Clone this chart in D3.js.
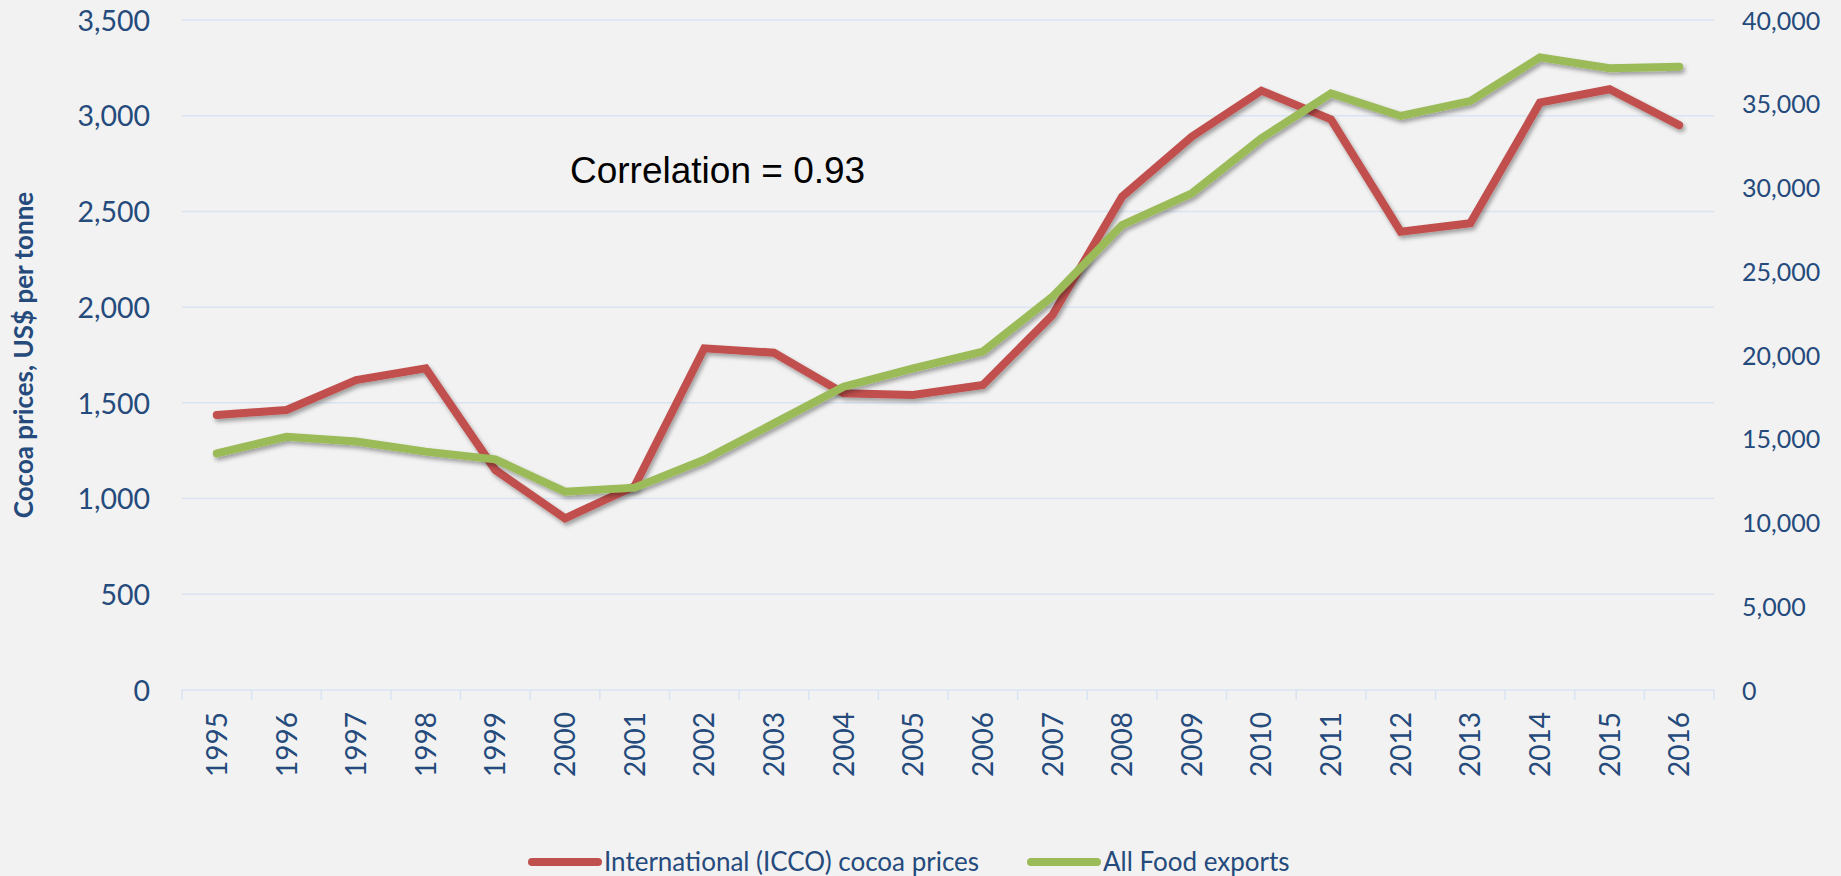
<!DOCTYPE html>
<html>
<head>
<meta charset="utf-8">
<script src="https://cdn.jsdelivr.net/npm/d3@7"></script>
<style>
  html, body { margin: 0; padding: 0; background: #f2f2f2; }
  svg { display: block; }
  .tick-label { font-family: Lato, "Open Sans", sans-serif; fill: #254a7c; }
  .grid line { stroke: #d9e4f2; stroke-width: 1.5; }
</style>
</head>
<body>
<div id="chart"></div>
<script>
/* ============================================================
   Cocoa prices vs. food exports - dual axis line chart
   ============================================================ */

const WIDTH = 1841;
const HEIGHT = 876;
const PLOT = { left: 182, right: 1714, top: 20, bottom: 690 };

// categories
const YEARS = [
  "1995", "1996", "1997", "1998", "1999", "2000", "2001", "2002",
  "2003", "2004", "2005", "2006", "2007", "2008", "2009", "2010",
  "2011", "2012", "2013", "2014", "2015", "2016",
];

// International (ICCO) cocoa prices, US$ per tonne (left axis)
const COCOA_PRICES = [
  1437, 1463, 1619, 1680, 1149, 897, 1065, 1785,
  1762, 1550, 1541, 1593, 1959, 2577, 2890, 3131,
  2981, 2394, 2438, 3068, 3138, 2951,
];

// All food exports (right axis)
const FOOD_EXPORTS = [
  14130, 15120, 14830, 14230, 13770, 11840, 12080, 13750,
  15920, 18110, 19200, 20200, 23480, 27760, 29650, 32940,
  35620, 34270, 35160, 37770, 37120, 37210,
];

const LEFT_TICKS = [0, 500, 1000, 1500, 2000, 2500, 3000, 3500];
const RIGHT_TICKS = [0, 5000, 10000, 15000, 20000, 25000, 30000, 35000, 40000];

const SERIES = [
  { name: "International (ICCO) cocoa prices", values: COCOA_PRICES, color: "#c0504d", axis: "left" },
  { name: "All Food exports", values: FOOD_EXPORTS, color: "#9bbb59", axis: "right" },
];

const fmt = d3.format(",");

const svg = d3
  .select("#chart")
  .append("svg")
  .attr("width", WIDTH)
  .attr("height", HEIGHT);

// soft shadow under the lines, like the office chart
const defs = svg.append("defs");
defs
  .append("filter")
  .attr("id", "shadow")
  .attr("x", "-5%")
  .attr("y", "-20%")
  .attr("width", "110%")
  .attr("height", "140%")
  .append("feDropShadow")
  .attr("dx", 2)
  .attr("dy", 3)
  .attr("stdDeviation", 2)
  .attr("flood-color", "#000")
  .attr("flood-opacity", 0.35);

/* ---------- scales ---------- */
const x = d3
  .scaleBand()
  .domain(YEARS)
  .range([PLOT.left, PLOT.right])
  .padding(0);

const yLeft = d3
  .scaleLinear()
  .domain([0, 3500])
  .range([PLOT.bottom, PLOT.top]);

const yRight = d3
  .scaleLinear()
  .domain([0, 40000])
  .range([PLOT.bottom, PLOT.top]);

const cx = (year) => x(year) + x.bandwidth() / 2;

/* ---------- gridlines (left axis) ---------- */
svg
  .append("g")
  .attr("class", "grid")
  .selectAll("line")
  .data(LEFT_TICKS)
  .join("line")
  .attr("x1", PLOT.left)
  .attr("x2", PLOT.right)
  .attr("y1", (d) => yLeft(d))
  .attr("y2", (d) => yLeft(d));

/* ---------- left axis labels ---------- */
const leftAxis = svg
  .append("g")
  .attr("transform", `translate(${PLOT.left},0)`)
  .call(d3.axisLeft(yLeft).tickValues(LEFT_TICKS).tickFormat(fmt).tickSize(0).tickPadding(32));
leftAxis.select(".domain").remove();
leftAxis
  .selectAll("text")
  .attr("class", "tick-label")
  .attr("font-size", 28.5)
  .attr("dy", "0.36em");

/* ---------- right axis labels ---------- */
const rightAxis = svg
  .append("g")
  .attr("transform", `translate(${PLOT.right},0)`)
  .call(d3.axisRight(yRight).tickValues(RIGHT_TICKS).tickFormat(fmt).tickSize(0).tickPadding(28));
rightAxis.select(".domain").remove();
rightAxis
  .selectAll("text")
  .attr("class", "tick-label")
  .attr("font-size", 25)
  .attr("dy", "0.36em");

/* ---------- category axis: tick marks between years ---------- */
const boundaries = YEARS.map((y) => x(y)).concat([x(YEARS[YEARS.length - 1]) + x.bandwidth()]);
svg
  .append("g")
  .selectAll("line")
  .data(boundaries)
  .join("line")
  .attr("x1", (d) => d)
  .attr("x2", (d) => d)
  .attr("y1", PLOT.bottom)
  .attr("y2", PLOT.bottom + 10)
  .attr("stroke", "#d9e4f2")
  .attr("stroke-width", 1.5);

svg
  .append("g")
  .selectAll("text")
  .data(YEARS)
  .join("text")
  .attr("class", "tick-label")
  .attr("font-size", 28)
  .attr("text-anchor", "end")
  .attr("x", (d) => cx(d))
  .attr("y", 712)
  .attr("dy", "0.36em")
  .attr("transform", (d) => `rotate(-90,${cx(d)},712)`)
  .text((d) => d);

/* ---------- axis title ---------- */
svg
  .append("text")
  .attr("transform", "translate(33,355) rotate(-90)")
  .attr("text-anchor", "middle")
  .attr("font-family", "Lato, sans-serif")
  .attr("font-weight", 700)
  .attr("font-size", 26)
  .attr("fill", "#254a7c")
  .text("Cocoa prices, US$ per tonne");

/* ---------- lines ---------- */
SERIES.forEach((s) => {
  const yScale = s.axis === "left" ? yLeft : yRight;
  const line = d3
    .line()
    .x((d, i) => cx(YEARS[i]))
    .y((d) => yScale(d));

  svg
    .append("path")
    .datum(s.values)
    .attr("d", line)
    .attr("fill", "none")
    .attr("stroke", s.color)
    .attr("stroke-width", 8)
    .attr("stroke-linejoin", "miter")
    .attr("stroke-linecap", "round")
    .attr("filter", "url(#shadow)");
});

/* ---------- correlation note ---------- */
svg
  .append("text")
  .attr("x", 570)
  .attr("y", 183)
  .attr("font-family", "'Liberation Sans', Arial, sans-serif")
  .attr("font-size", 37)
  .attr("fill", "#000")
  .text("Correlation = 0.93");

/* ---------- legend ---------- */
const LEGEND_X = [532, 1031];
const legend = svg
  .append("g")
  .selectAll("g")
  .data(SERIES)
  .join("g")
  .attr("transform", (d, i) => `translate(${LEGEND_X[i]},862)`);

legend
  .append("line")
  .attr("x1", 0)
  .attr("x2", 66)
  .attr("stroke", (d) => d.color)
  .attr("stroke-width", 8)
  .attr("stroke-linecap", "round");

legend
  .append("text")
  .attr("class", "tick-label")
  .attr("x", 72)
  .attr("y", 9)
  .attr("font-size", 26)
  .text((d) => d.name);
</script>
</body>
</html>
